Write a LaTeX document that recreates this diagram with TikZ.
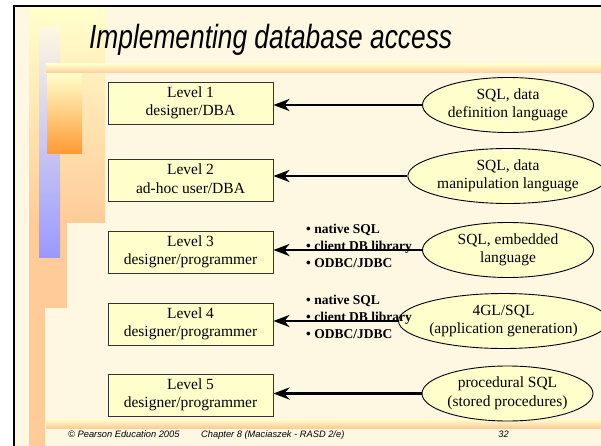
\documentclass[tikz,border=0pt]{standalone}
\usepackage{fontspec}
\setmainfont{Liberation Serif}
\setsansfont{Liberation Sans}
\usetikzlibrary{arrows.meta,shapes.geometric}
\definecolor{bgc}{RGB}{254,247,226}
\definecolor{boxfill}{RGB}{255,255,204}
\definecolor{peach}{RGB}{255,204,153}
\definecolor{paleyel}{RGB}{255,255,204}
\definecolor{blueb}{RGB}{153,153,255}
\definecolor{orangeb}{RGB}{255,153,51}
\newcommand{\twolines}[3]{\raisebox{#1}{\begin{tabular}{@{}c@{}}#2\\#3\end{tabular}}}
\tikzset{
  levelbox/.style={draw=black!80, line width=0.9pt, fill=boxfill, minimum width=165pt, minimum height=42pt, inner sep=0pt, align=center, font=\fontsize{15.5}{18.4}\selectfont},
  langell/.style={ellipse, draw=black, line width=0.9pt, fill=boxfill, minimum width=171pt, minimum height=55pt, inner sep=0pt, align=center, font=\fontsize{15.5}{18.4}\selectfont},
  feed/.style={line width=2.8pt, -{Stealth[length=16pt,width=12pt,inset=5pt]}},
  bullets/.style={anchor=west, align=left, inner sep=0pt, font=\bfseries\fontsize{13.5}{16.8}\selectfont},
  footer/.style={anchor=base west, inner sep=0pt, font=\sffamily\itshape\fontsize{9.3}{11}\selectfont}
}
\begin{document}
\begin{tikzpicture}[x=1pt,y=-1pt]
\useasboundingbox (0,0) rectangle (601,446);
\fill[white] (0,0) rectangle (601,446);
\fill[bgc] (14,6) rectangle (601,446);
% left decorations
\shade[top color=paleyel, bottom color=peach] (29,8) rectangle (105,222);
\fill[peach] (29,222) rectangle (45,446);
\fill[peach] (42,222) rectangle (67,308);
\shade[top color=bgc, bottom color=blueb] (39,28) rectangle (60,257);
\shade[top color=paleyel, bottom color=orangeb] (47,73) rectangle (82,154);
% horizontal bars
\shade[top color=paleyel, bottom color=peach] (46,64) rectangle (601,73);
\shade[top color=paleyel, bottom color=peach] (46,419) rectangle (601,428);
% frame
\draw[line width=2pt] (14,446) -- (14,6) -- (601,6);
% title
\node[anchor=base west, inner sep=0pt, xscale=0.786, font=\sffamily\itshape\fontsize{33.5}{40}\selectfont] (title) at (89,49) {Implementing database access};
% level boxes
\node[levelbox] (b1) at (190.5,103) {\twolines{-4.5pt}{Level 1}{designer/DBA}};
\node[levelbox] (b2) at (190.5,180.5) {\twolines{-4pt}{Level 2}{ad-hoc user/DBA}};
\node[levelbox] (b3) at (190.5,252) {\twolines{-4pt}{Level 3}{designer/programmer}};
\node[levelbox] (b4) at (190.5,324) {\twolines{-4pt}{Level 4}{designer/programmer}};
\node[levelbox] (b5) at (190.5,395) {\twolines{-4pt}{Level 5}{designer/programmer}};
% ellipses
\node[langell] (e1) at (508,105) {\twolines{-3pt}{SQL, data}{definition language}};
\node[langell] (e2) at (508,176) {\twolines{-3pt}{SQL, data}{manipulation language}};
\node[langell] (e3) at (508,250) {\twolines{-2.5pt}{SQL, embedded}{language}};
\node[langell, minimum width=161pt] (e4) at (503.5,321) {\twolines{0pt}{4GL/SQL}{(application generation)}};
\node[langell] (e5) at (507.5,393.5) {\twolines{-2pt}{procedural SQL}{(stored procedures)}};
% connectors
\draw[feed] (e1.west) -- (b1.east |- e1.west);
\draw[feed] (e2.west) -- (b2.east |- e2.west);
\draw[feed] (e3.west) -- (b3.east |- e3.west);
\draw[feed] (e4.west) -- (b4.east |- e4.west);
\draw[feed] (e5.west) -- (b5.east |- e5.west);
% bullet labels
\node[bullets] (l3) at (306,246) {\textbullet\ native SQL\\\textbullet\ client DB library\\\textbullet\ ODBC/JDBC};
\node[bullets] (l4) at (306,317) {\textbullet\ native SQL\\\textbullet\ client DB library\\\textbullet\ ODBC/JDBC};
% footer
\node[footer] (f1) at (68,437) {\textcopyright\ Pearson Education 2005};
\node[footer] (f2) at (201,437) {Chapter 8 (Maciaszek - RASD 2/e)};
\node[footer, anchor=base east] (f3) at (509,437) {32};
\end{tikzpicture}
\end{document}
